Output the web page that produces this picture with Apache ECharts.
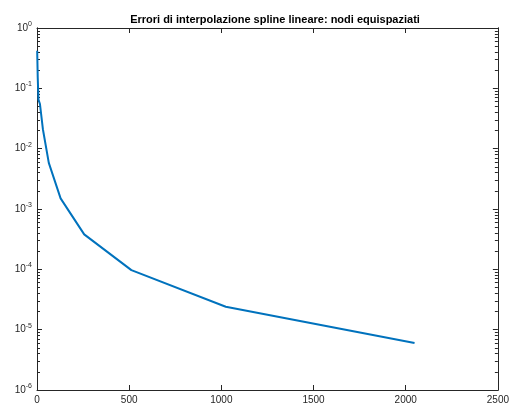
<!DOCTYPE html>
<html>
<head>
    <meta charset="utf-8">
    <title>Errori spline</title>
    <script src="https://cdn.jsdelivr.net/npm/echarts@6/dist/echarts.min.js"></script>
    <style>
        html, body { margin: 0; padding: 0; background: #fff; }
        #chart { width: 512px; height: 405px; }
    </style>
</head>
<body>
<div id="chart"></div>
<script type="text/javascript">
    // numero di nodi e relativo errore
    var nodi = [1, 2, 4, 8, 16, 32, 64, 128, 256, 512, 1024, 2048];
    var errori = [0.42, 0.3, 0.15, 0.065, 0.055, 0.021, 0.0058, 0.0015, 0.00038, 0.000097, 0.000024, 0.000006];
    var xTicks = [0, 500, 1000, 1500, 2000, 2500];
    var yExp = [-6, -5, -4, -3, -2, -1, 0];

    var minori = [];
    for (var e = -6; e < 0; e++) {
        for (var k = 2; k <= 9; k++) {
            minori.push(k * Math.pow(10, e));
        }
    }

    var txt = '#262626';
    var font = 'Liberation Sans';

    function yAxisDef(pos, minor) {
        return {
            type: 'log',
            logBase: 10,
            min: Math.pow(10, yExp[0]),
            max: Math.pow(10, yExp[yExp.length - 1]),
            position: pos,
            axisLine: {show: true, lineStyle: {color: txt, width: 1}},
            axisTick: minor
                ? {show: true, inside: true, length: 3, customValues: minori, lineStyle: {color: txt}}
                : {show: true, inside: true, length: 5, lineStyle: {color: txt}},
            splitLine: {show: false},
            axisLabel: {
                show: pos === 'left' && !minor,
                margin: 5,
                color: txt,
                fontFamily: font,
                formatter: function (v) {
                    return '{b|10}{s|' + Math.round(Math.log10(v)) + '}';
                },
                rich: {
                    b: {fontSize: 10, fontFamily: font, color: txt},
                    s: {fontSize: 7, fontFamily: font, color: txt, verticalAlign: 'top', padding: [0, 0, 8, 0]}
                }
            }
        };
    }

    function xAxisDef(pos) {
        return {
            type: 'value',
            min: xTicks[0],
            max: xTicks[xTicks.length - 1],
            interval: xTicks[1] - xTicks[0],
            position: pos,
            axisLine: {show: true, lineStyle: {color: txt, width: 1}},
            axisTick: {show: true, inside: true, length: 5, lineStyle: {color: txt}},
            splitLine: {show: false},
            axisLabel: {
                show: pos === 'bottom', color: txt, fontFamily: font, fontSize: 10, margin: 5,
                formatter: function (v) { return String(v); }
            }
        };
    }

    var myChart = echarts.init(document.getElementById('chart'));
    var option = {
        animation: false,
        title: {
            text: 'Errori di interpolazione spline lineare: nodi equispaziati',
            left: 270,
            textAlign: 'center',
            top: 9,
            textStyle: {fontSize: 11, fontWeight: 'bold', fontFamily: font, color: '#000'}
        },
        grid: {left: 37, right: 11, top: 28, bottom: 13},
        xAxis: [xAxisDef('bottom'), xAxisDef('top')],
        yAxis: [yAxisDef('left', false), yAxisDef('left', true), yAxisDef('right', false), yAxisDef('right', true)],
        series: [{
            type: 'line',
            xAxisIndex: 0,
            yAxisIndex: 0,
            data: nodi.map(function (n, i) { return [n, errori[i]]; }),
            showSymbol: false,
            lineStyle: {color: '#0072BD', width: 2},
            itemStyle: {color: '#0072BD'}
        }]
    };
    myChart.setOption(option);
</script>
</body>
</html>
